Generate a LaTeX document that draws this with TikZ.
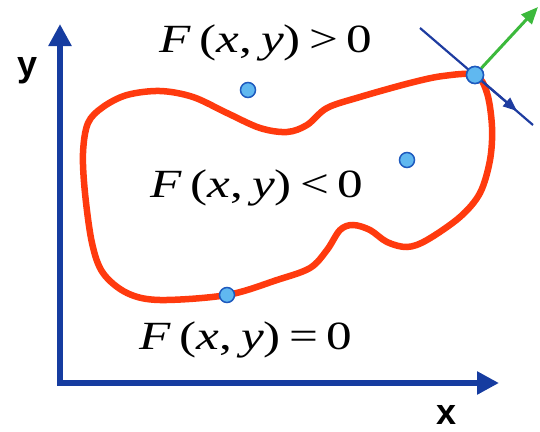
\documentclass[tikz,border=0pt]{standalone}
\usepackage{fontspec}
\setmainfont{Liberation Serif}
\newfontfamily\axfont{Liberation Sans}
\usetikzlibrary{arrows.meta}
\definecolor{axblue}{RGB}{22,60,160}
\definecolor{curvered}{RGB}{255,58,14}
\definecolor{dotfill}{RGB}{96,184,240}
\definecolor{dotedge}{RGB}{30,90,190}
\definecolor{normgreen}{RGB}{60,185,60}
\definecolor{tanblue}{RGB}{30,60,160}
\begin{document}
\begin{tikzpicture}[x=1pt,y=-1pt,
  axis/.style={axblue, line width=6.5pt, line join=miter,
    {Triangle[length=22pt,width=22pt]}-{Triangle[length=22pt,width=22pt]}},
  curve/.style={curvered, line width=6.5pt},
  tanline/.style={tanblue, line width=2.2pt},
  tanarrow/.style={tanblue, line width=2.2pt, -{Triangle[length=14pt,width=11pt]}},
  normarrow/.style={normgreen, line width=3pt, -{Triangle[length=17pt,width=14pt]}},
  dot/.style={circle, fill=dotfill, draw=dotedge, line width=1.5pt, inner sep=0pt, minimum size=15pt},
  flabel/.style={font=\fontsize{40}{42}\selectfont, inner sep=0pt},
  axlabel/.style={font=\axfont\bfseries\fontsize{36}{38}\selectfont, inner sep=0pt}
]
\useasboundingbox (0,0) rectangle (540,431);
% axes
\coordinate (ytip) at (60,24);
\coordinate (O) at (60,383);
\coordinate (xtip) at (499,383);
\draw[axis] (ytip) -- (O) -- (xtip);
\node[axlabel] (ylab) at (28,71) {y};
\node[axlabel] (xlab) at (447,415) {x};
% curve F(x,y)=0
\draw[curve] plot[smooth cycle, tension=0.55] coordinates {
 (83,153) (88,123) (103,107) (127,95) (160,91) (193,97) (227,113) (260,128)
 (287,132) (307,125) (327,108) (360,97) (410,83) (443,76) (475,75) (487,93)
 (492,127) (490,160) (480,193) (460,217) (427,240) (407,247) (387,242)
 (370,230) (353,225) (340,230) (327,250) (310,268) (277,280) (227,295)
 (160,300) (127,293) (103,273) (92,243) (85,193)};
% tangent and normal
\coordinate (t1) at (420,28);
\coordinate (t2) at (533,125);
\coordinate (tt) at (517,111);
\coordinate (nt) at (538,7);
\node[dot, minimum size=17pt] (P) at (475,75) {};
\draw[tanline] (t1) -- (t2);
\draw[tanarrow] (P.center) -- (tt);
\draw[normarrow] (P) -- (nt);
\node[dot, minimum size=17pt] at (P) {};
% points
\node[dot] (A) at (248,90) {};
\node[dot] (B) at (407,160) {};
\node[dot] (C) at (227,295) {};
% labels
\node[flabel] (L1) at (266,43) {\scalebox{1.28}[1]{\textit{F}\,(\textit{x},\,\textit{y})\,>\,0}};
\node[flabel] (L2) at (257,188) {\scalebox{1.28}[1]{\textit{F}\,(\textit{x},\,\textit{y})\,<\,0}};
\node[flabel] (L3) at (246,340) {\scalebox{1.28}[1]{\textit{F}\,(\textit{x},\,\textit{y})\,=\,0}};
\end{tikzpicture}
\end{document}
